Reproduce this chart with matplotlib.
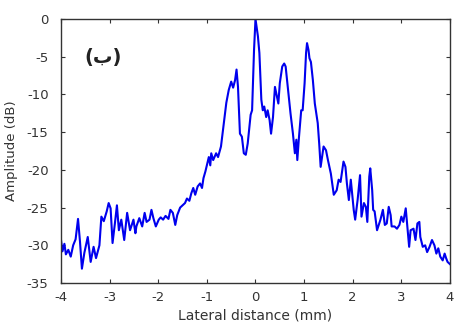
import numpy as np
import matplotlib
matplotlib.use('Agg')
import matplotlib.pyplot as plt

plt.rcParams['axes.unicode_minus'] = False

# lateral beam profile (mm, dB)
LATERAL_MM = [
    -4.00, -3.97, -3.93, -3.90, -3.85, -3.80, -3.75, -3.70, -3.65, -3.61,
    -3.57, -3.52, -3.45, -3.39, -3.33, -3.28, -3.21, -3.17, -3.12, -3.06,
    -3.02, -2.98, -2.96, -2.94, -2.89, -2.85, -2.81, -2.76, -2.70, -2.64,
    -2.58, -2.51, -2.47, -2.45, -2.39, -2.33, -2.28, -2.24, -2.18, -2.14,
    -2.10, -2.05, -1.99, -1.95, -1.90, -1.85, -1.79, -1.75, -1.70, -1.65,
    -1.61, -1.55, -1.50, -1.45, -1.41, -1.36, -1.32, -1.28, -1.24, -1.19,
    -1.14, -1.10, -1.07, -1.03, -0.99, -0.96, -0.93, -0.91, -0.87, -0.81,
    -0.77, -0.71, -0.66, -0.60, -0.55, -0.50, -0.46, -0.42, -0.39, -0.36,
    -0.32, -0.28, -0.24, -0.20, -0.16, -0.10, -0.07, -0.03, 0.00, 0.05,
    0.08, 0.12, 0.15, 0.18, 0.22, 0.25, 0.29, 0.32, 0.36, 0.40,
    0.44, 0.47, 0.50, 0.55, 0.59, 0.62, 0.67, 0.72, 0.77, 0.81,
    0.84, 0.86, 0.89, 0.94, 0.97, 1.01, 1.04, 1.06, 1.09, 1.11,
    1.14, 1.18, 1.22, 1.28, 1.31, 1.34, 1.40, 1.45, 1.49, 1.55,
    1.61, 1.67, 1.71, 1.75, 1.81, 1.85, 1.88, 1.92, 1.96, 2.02,
    2.05, 2.10, 2.15, 2.18, 2.23, 2.27, 2.30, 2.34, 2.36, 2.40,
    2.42, 2.45, 2.50, 2.57, 2.62, 2.66, 2.70, 2.74, 2.78, 2.80,
    2.86, 2.91, 2.96, 3.00, 3.04, 3.09, 3.13, 3.16, 3.19, 3.25,
    3.29, 3.33, 3.37, 3.39, 3.44, 3.49, 3.53, 3.58, 3.63, 3.68,
    3.72, 3.76, 3.80, 3.85, 3.89, 3.92, 3.95, 4.00,
]
AMPLITUDE_DB = [
    -29.3, -30.8, -29.8, -31.2, -30.6, -31.5, -30.0, -29.2, -26.5, -29.5,
    -33.1, -31.0, -28.9, -32.2, -30.2, -31.7, -30.0, -26.2, -26.8, -25.5,
    -24.4, -25.1, -27.5, -29.7, -27.0, -24.7, -28.0, -26.6, -29.3, -25.7,
    -28.0, -26.6, -28.4, -27.5, -26.4, -27.5, -25.7, -26.9, -26.6, -25.3,
    -26.4, -27.5, -26.6, -26.3, -26.6, -26.1, -26.5, -25.3, -25.7, -27.3,
    -26.0, -25.0, -24.7, -24.4, -23.8, -24.1, -23.1, -22.4, -23.3, -22.2,
    -21.8, -22.4, -21.1, -20.2, -19.1, -18.3, -19.4, -17.8, -18.7, -17.8,
    -18.3, -16.9, -14.3, -11.1, -9.4, -8.3, -9.1, -8.1, -6.7, -9.0,
    -15.2, -15.6, -17.8, -18.0, -16.5, -12.7, -12.1, -4.1, 0.0, -2.3,
    -4.5, -10.7, -12.1, -11.6, -13.0, -12.1, -13.4, -15.2, -13.0, -9.0,
    -10.3, -11.2, -8.5, -6.3, -5.9, -6.3, -9.4, -12.5, -15.2, -17.8,
    -16.0, -18.7, -16.0, -12.1, -12.1, -8.5, -4.5, -3.2, -4.1, -5.2,
    -5.7, -8.1, -11.2, -13.8, -16.5, -19.6, -16.9, -17.4, -18.7, -20.5,
    -23.3, -22.7, -21.3, -21.6, -18.9, -19.6, -21.8, -24.0, -21.3, -25.3,
    -26.6, -24.0, -20.7, -26.2, -24.4, -24.9, -26.9, -20.9, -19.8, -22.7,
    -25.3, -25.5, -28.0, -26.6, -25.3, -27.3, -27.1, -24.9, -26.0, -27.5,
    -27.5, -27.8, -27.3, -26.2, -26.9, -25.1, -28.0, -30.2, -28.0, -27.8,
    -29.3, -27.1, -26.9, -28.9, -30.2, -30.0, -30.9, -30.2, -29.3, -30.0,
    -31.1, -30.4, -31.5, -32.0, -31.1, -31.7, -32.2, -32.5,
]
X_TICKS = [-4, -3, -2, -1, 0, 1, 2, 3, 4]
Y_TICKS = [-35, -30, -25, -20, -15, -10, -5, 0]
PANEL_LABEL = '(ب)'

TEXT_COLOR = '#333333'

fig = plt.figure(figsize=(4.56, 3.24), dpi=100)
ax = fig.add_axes([0.1338, 0.1265, 0.853, 0.8148])

ax.plot(LATERAL_MM, AMPLITUDE_DB, color='#0000ee', lw=1.5)

ax.set_xlim(-4, 4)
ax.set_ylim(-35, 0)
ax.set_xticks(X_TICKS)
ax.set_yticks(Y_TICKS)
ax.tick_params(direction='in', top=True, right=True, length=3, width=0.8,
               color='#333333', labelcolor=TEXT_COLOR, labelsize=9.5)
ax.tick_params(axis='y', pad=9)
ax.tick_params(axis='x', pad=6)
for s in ax.spines.values():
    s.set_color('#333333')
    s.set_linewidth(1.0)

ax.set_xlabel('Lateral distance (mm)', fontsize=10, color=TEXT_COLOR, labelpad=3)
ax.set_ylabel('Amplitude (dB)', fontsize=9.5, color=TEXT_COLOR, labelpad=6)

ax.text(0.108, 0.856, PANEL_LABEL, transform=ax.transAxes, ha='center',
        va='center', fontsize=14, fontweight='bold', color='#222222',
        family=['DejaVu Sans'])

fig.savefig('out.png', dpi=100)
